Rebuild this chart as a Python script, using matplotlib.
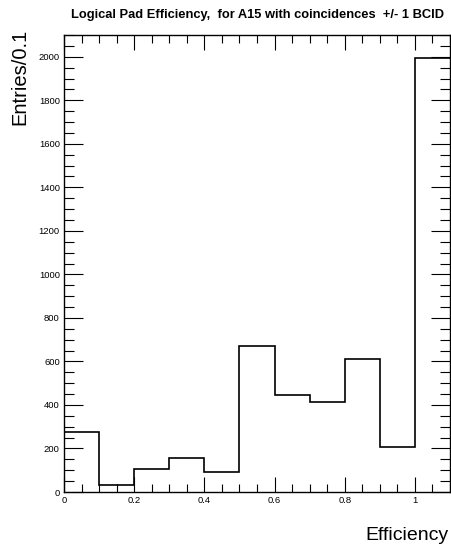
import matplotlib
matplotlib.use("Agg")
import matplotlib.pyplot as plt
import numpy as np
from matplotlib.ticker import MultipleLocator

plt.rcParams['font.family'] = ['Liberation Sans', 'DejaVu Sans']

bin_edges = [0.0, 0.1, 0.2, 0.3, 0.4, 0.5, 0.6, 0.7, 0.8, 0.9, 1.0, 1.1]
counts = [275, 30, 105, 155, 90, 672, 446, 414, 611, 209, 1995]

W, H = 452, 546
fig = plt.figure(figsize=(W / 100, H / 100), dpi=100)
l, r, t, b = 64, 450, 35, 492
ax = fig.add_axes([l / W, 1 - b / H, (r - l) / W, (b - t) / H])

ax.stairs(counts, bin_edges, color='black', linewidth=1.2, baseline=None)
ax.set_xlim(0, 1.1)
ax.set_ylim(0, 2100)

ax.xaxis.set_major_locator(MultipleLocator(0.2))
ax.xaxis.set_minor_locator(MultipleLocator(0.05))
ax.yaxis.set_major_locator(MultipleLocator(200))
ax.yaxis.set_minor_locator(MultipleLocator(50))
ax.set_xticks([0, 0.2, 0.4, 0.6, 0.8, 1.0])
ax.set_xticklabels(['0', '0.2', '0.4', '0.6', '0.8', '1'])

ax.tick_params(which='both', direction='in', top=True, right=True, labelsize=6.8, width=0.8)
ax.tick_params(axis='x', which='major', length=11, pad=3)
ax.tick_params(axis='x', which='minor', length=5.5)
ax.tick_params(axis='y', which='major', length=14, pad=3)
ax.tick_params(axis='y', which='minor', length=7)
for s in ax.spines.values():
    s.set_linewidth(1.0)

fig.text(258 / W, 1 - 15 / H, 'Logical Pad Efficiency,  for A15 with coincidences  +/- 1 BCID',
         ha='center', va='center', fontsize=9.3, fontweight='bold')
fig.text(449 / W, 1 - 535 / H, 'Efficiency', ha='right', va='center', fontsize=14)
fig.text(20 / W, 1 - 29 / H, 'Entries/0.1', ha='center', va='top', rotation=90, fontsize=14.5)

fig.savefig('out.png', dpi=100)
